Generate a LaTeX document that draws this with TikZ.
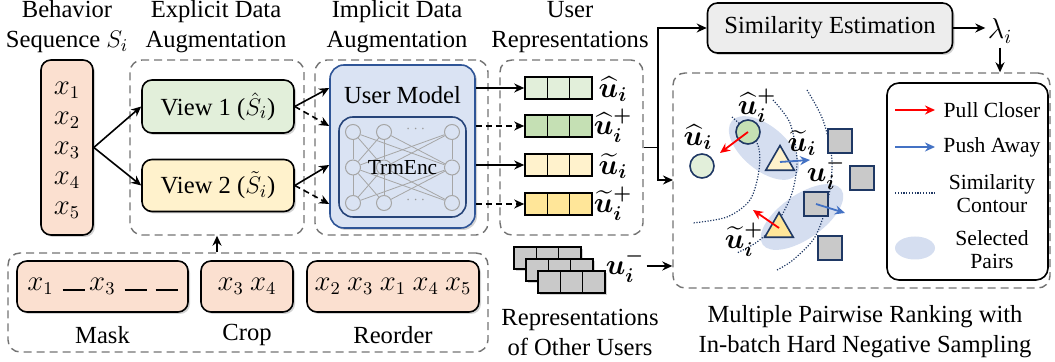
\documentclass[tikz,border=0pt]{standalone}
\usepackage{fontspec}
\setmainfont{Liberation Serif}
\usepackage{amsmath,bm}
\usetikzlibrary{arrows.meta,calc,shapes.geometric,shadows}
\definecolor{peach}{HTML}{FBE0D0}
\definecolor{gL}{HTML}{E2EFDA}
\definecolor{gD}{HTML}{C5E0B4}
\definecolor{yL}{HTML}{FFF2CC}
\definecolor{yD}{HTML}{FFE699}
\definecolor{umfill}{HTML}{DAE3F3}
\definecolor{umdraw}{HTML}{2F5597}
\definecolor{navy}{HTML}{1F3864}
\definecolor{sq}{HTML}{C9C9C9}
\definecolor{pairc}{HTML}{D5DEF0}
\definecolor{pushc}{HTML}{4472C4}
\definecolor{simfill}{HTML}{EDEDED}
\tikzset{
  arr/.style={-{Stealth[length=5pt,width=4.5pt]}, line width=0.8pt},
  darr/.style={arr, dash pattern=on 3pt off 2pt},
  dbox/.style={draw=black!55, line width=0.7pt, dash pattern=on 4pt off 2.5pt, rounded corners=6pt, inner sep=0pt},
  shd/.style={drop shadow={opacity=0.35, shadow xshift=1pt, shadow yshift=-1pt}},
  rbox/.style={draw=black, line width=0.8pt, rounded corners=5pt, inner sep=0pt, shd},
  title/.style={align=center, font=\fontsize{12.3}{15}\selectfont},
  ml/.style={inner sep=1pt, font=\fontsize{14.5}{15}\selectfont},
  mx/.style={font=\fontsize{13.5}{15}\selectfont},
  vec/.style={draw=black, line width=0.8pt, minimum width=33.5pt, minimum height=11pt, inner sep=0pt,
    path picture={
      \draw[line width=0.8pt] ($(path picture bounding box.north west)!1/3!(path picture bounding box.north east)$) -- ($(path picture bounding box.south west)!1/3!(path picture bounding box.south east)$);
      \draw[line width=0.8pt] ($(path picture bounding box.north west)!2/3!(path picture bounding box.north east)$) -- ($(path picture bounding box.south west)!2/3!(path picture bounding box.south east)$);
    }},
  nn/.style={circle, draw=black!35, line width=0.5pt, minimum size=7.5pt, inner sep=0pt},
  nl/.style={draw=black!35, line width=0.4pt},
  pt/.style={circle, draw=navy, line width=0.8pt, minimum size=12pt, inner sep=0pt},
  tri/.style={regular polygon, regular polygon sides=3, draw=navy, line width=0.8pt, minimum size=16.5pt, inner sep=0pt},
  sqr/.style={rectangle, draw=navy, line width=0.8pt, fill=sq, minimum size=12pt, inner sep=0pt},
  pair/.style={ellipse, fill=pairc, inner sep=0pt},
  cont/.style={draw=navy, line width=0.6pt, dash pattern=on 0.6pt off 0.8pt},
  pull/.style={-{Stealth[length=5pt,width=4.5pt]}, line width=0.9pt, red},
  push/.style={-{Stealth[length=5pt,width=4.5pt]}, line width=0.9pt, pushc},
  leg/.style={align=center, font=\fontsize{10.8}{11.5}\selectfont},
}
\begin{document}
\begin{tikzpicture}[x=0.5pt, y=-0.5pt, font=\fontsize{12.3}{15}\selectfont]
\useasboundingbox (0,0) rectangle (1055,362);

% titles
\node[title] (t1) at (67,27) {Behavior\\Sequence $S_i$};
\node[title] (t2) at (216,27) {Explicit Data\\Augmentation};
\node[title] (t3) at (397,27) {Implicit Data\\Augmentation};
\node[title] (t4) at (570,27) {User\\Representations};

% dashed containers
\node[dbox, minimum width=87pt, minimum height=87.5pt] (exp) at (217,147.5) {};
\node[dbox, minimum width=86.5pt, minimum height=87.5pt] (imp) at (401.5,147.5) {};
\node[dbox, minimum width=71.5pt, minimum height=87.5pt] (ur) at (571.5,147.5) {};
\node[dbox, minimum width=240pt, minimum height=49.5pt] (bot) at (248,302.5) {};
\node[dbox, minimum width=188.5pt, minimum height=107.5pt] (panel) at (861.5,180.5) {};

% sequence
\node[rbox, fill=peach, minimum width=26pt, minimum height=87.5pt] (seq) at (67,147.5) {};
\node[align=center, mx] (seqt) at (67,150) {$x_1$\\$x_2$\\$x_3$\\$x_4$\\$x_5$};

% views
\node[rbox, fill=gL, minimum width=76pt, minimum height=26.5pt] (view1) at (218,106.5) {View 1 ($\hat{S}_i$)};
\node[rbox, fill=yL, minimum width=76pt, minimum height=26pt] (view2) at (218,185.5) {View 2 ($\tilde{S}_i$)};
\draw[arr] (seq.east) -- (view1.west);
\draw[arr] (seq.east) -- (view2.west);

% user model
\node[rbox, draw=umdraw, fill=umfill, rounded corners=7pt, minimum width=72.5pt, minimum height=81.5pt] (um) at (402.5,146.5) {};
\node (umt) at (402.5,95) {User Model};
\node[draw=umdraw!80!black, line width=0.8pt, rounded corners=7pt, fill=umfill, minimum width=63.5pt, minimum height=50pt, inner sep=0pt] (enc) at (402.5,167) {};
\foreach \c/\x in {1/353,2/384,3/452}{
  \foreach \r/\y in {1/132,2/167.5,3/203}{
    \node[nn] (n\r\c) at (\x,\y) {};
  }
}
\foreach \a in {1,2,3}{
  \foreach \b in {1,2,3}{
    \draw[nl] (n1\a) -- (n2\b);
    \draw[nl] (n2\a) -- (n3\b);
  }
}
\node[text=black!40, font=\scriptsize] (dots1) at (417,129) {$\cdots$};
\node[text=black!40, font=\scriptsize] (dots3) at (417,200) {$\cdots$};
\node[font=\fontsize{10.7}{12}\selectfont] (enct) at (402.5,168) {TrmEnc};

% user representation vectors
\node[vec, fill=gL] (v1) at (558.5,88) {};
\node[vec, fill=gD] (v2) at (558.5,126) {};
\node[vec, fill=yL] (v3) at (558.5,165) {};
\node[vec, fill=yD] (v4) at (558.5,204) {};
\node[ml] (l1) at (613,89) {$\bm{\widehat{u}}_{\bm{i}}$};
\node[ml] (l2) at (613,126) {$\bm{\widehat{u}}_{\bm{i}}^{\bm{+}}$};
\node[ml] (l3) at (613,166) {$\bm{\widetilde{u}}_{\bm{i}}$};
\node[ml] (l4) at (613,204) {$\bm{\widetilde{u}}_{\bm{i}}^{\bm{+}}$};

% view -> user model
\draw[arr] (view1.east) -- (um.west |- v1.west);
\draw[darr] (view1.east) -- (um.west |- v2.west);
\draw[arr] (view2.east) -- (um.west |- v3.west);
\draw[darr] (view2.east) -- (um.west |- v4.west);
% user model -> vectors
\draw[arr] (um.east |- v1.west) -- (v1.west);
\draw[darr] (um.east |- v2.west) -- (v2.west);
\draw[arr] (um.east |- v3.west) -- (v3.west);
\draw[darr] (um.east |- v4.west) -- (v4.west);

% bottom augmentations
\node[rbox, fill=peach, minimum width=85.5pt, minimum height=25.5pt, mx] (mask) at (102.5,286.5) {$x_1$\,\,\rule{11pt}{0.7pt}\,$x_3$\,\,\rule{11pt}{0.7pt}\,\,\rule{11pt}{0.7pt}};
\node[rbox, fill=peach, minimum width=46pt, minimum height=25.5pt, mx] (crop) at (247,286.5) {$x_3\:x_4$};
\node[rbox, fill=peach, minimum width=86pt, minimum height=25.5pt, mx] (reord) at (393,286.5) {$x_2\:x_3\:x_1\:x_4\:x_5$};
\node (maskt) at (102.5,335) {Mask};
\node (cropt) at (247,335) {Crop};
\node (reordt) at (393,335) {Reorder};
\draw[arr] (bot.north -| exp.south) -- (exp.south);

% similarity estimation
\node[rbox, fill=simfill, minimum width=122.5pt, minimum height=25pt] (sim) at (830,28) {Similarity Estimation};
\node[ml, font=\fontsize{14}{15}\selectfont] (lam) at (1000,31) {$\lambda_i$};
\coordinate (J) at (658,147.5);
\coordinate (pin) at (673,180);
\draw[line width=0.8pt] (ur.east) -- (J);
\draw[arr] (J) |- (sim.west);
\draw[arr] (J) |- (pin);
\draw[arr] (sim.east) -- ++(32,0) coordinate (lamin);
\draw[arr] ($(lam.south)+(0,2)$) -- (lam.south |- panel.north);

% other users
\node[vec, fill=sq, shd] (o1) at (547.5,258) {};
\node[vec, fill=sq, shd] (o2) at (559.5,270) {};
\node[vec, fill=sq, shd] (o3) at (571.5,282) {};
\node[ml] (um-) at (625,266) {$\bm{u}_{\bm{i}}^{\bm{-}}$};
\draw[arr] (um-.east) -- (um-.east -| panel.west);
\node[title] (ot) at (580,332) {Representations\\of Other Users};
\node[title] (pt) at (865,332) {Multiple Pairwise Ranking with\\In-batch Hard Negative Sampling};

% scene
\node[pair, minimum width=42pt, minimum height=22pt, rotate=-40] (e1) at (764,148) {};
\node[pair, minimum width=48pt, minimum height=22pt, rotate=35] (e2) at (802,217) {};
\draw[cont] plot[smooth] coordinates {(732,117) (757,143) (759,170) (750,200) (727,217) (693,223)};
\draw[cont] plot[smooth] coordinates {(773,100) (790,123) (797,160) (792,193) (777,223) (757,242) (737,253)};
\draw[cont] plot[smooth] coordinates {(807,90) (823,120) (832,160) (828,200) (815,237) (793,260) (777,270)};
\node[pt, fill=gL] (ch) at (702,166) {};
\node[pt, fill=gD] (chp) at (748,132) {};
\node[tri, fill=yL] (tt) at (780,162) {};
\node[tri, fill=yD] (ttp) at (779,229) {};
\node[sqr] (s1) at (840,141) {};
\node[sqr] (s2) at (862,178) {};
\node[sqr] (s3) at (816,204) {};
\node[sqr] (s4) at (830,248) {};
\node[ml] (lch) at (698,137) {$\bm{\widehat{u}}_{\bm{i}}$};
\node[ml] (lchp) at (757,106) {$\bm{\widehat{u}}_{\bm{i}}^{\bm{+}}$};
\node[ml] (ltt) at (802,143) {$\bm{\widetilde{u}}_{\bm{i}}$};
\node[ml] (lneg) at (826,173) {$\bm{u}_{\bm{i}}^{\bm{-}}$};
\node[ml] (lttp) at (744,240) {$\bm{\widetilde{u}}_{\bm{i}}^{\bm{+}}$};
\coordinate (r1) at (720,153);
\coordinate (r2) at (753,210);
\coordinate (b1) at (810,160);
\coordinate (b2) at (845,213);
\draw[pull] (chp.center) -- (r1);
\draw[pull] ($(ttp.center)+(0,-1)$) -- (r2);
\draw[push] (tt.center) -- (b1);
\draw[push] (s3.center) -- (b2);

% legend
\node[draw=black, line width=0.8pt, rounded corners=6pt, fill=white, minimum width=80.5pt, minimum height=98.5pt, inner sep=0pt] (leg) at (967.5,181.5) {};
\coordinate (la1) at (895,110); \coordinate (la2) at (935,110);
\coordinate (lb1) at (895,147); \coordinate (lb2) at (935,147);
\coordinate (lc1) at (895,193); \coordinate (lc2) at (935,193);
\draw[pull] (la1) -- (la2);
\draw[push] (lb1) -- (lb2);
\draw[cont] (lc1) -- (lc2);
\node[pair, minimum width=20pt, minimum height=11.5pt] (le) at (915,248) {};
\node[leg] (lt1) at (992,110) {Pull Closer};
\node[leg] (lt2) at (992,147) {Push Away};
\node[leg] (lt3) at (992,194) {Similarity\\Contour};
\node[leg] (lt4) at (992,250) {Selected\\Pairs};
\end{tikzpicture}
\end{document}
